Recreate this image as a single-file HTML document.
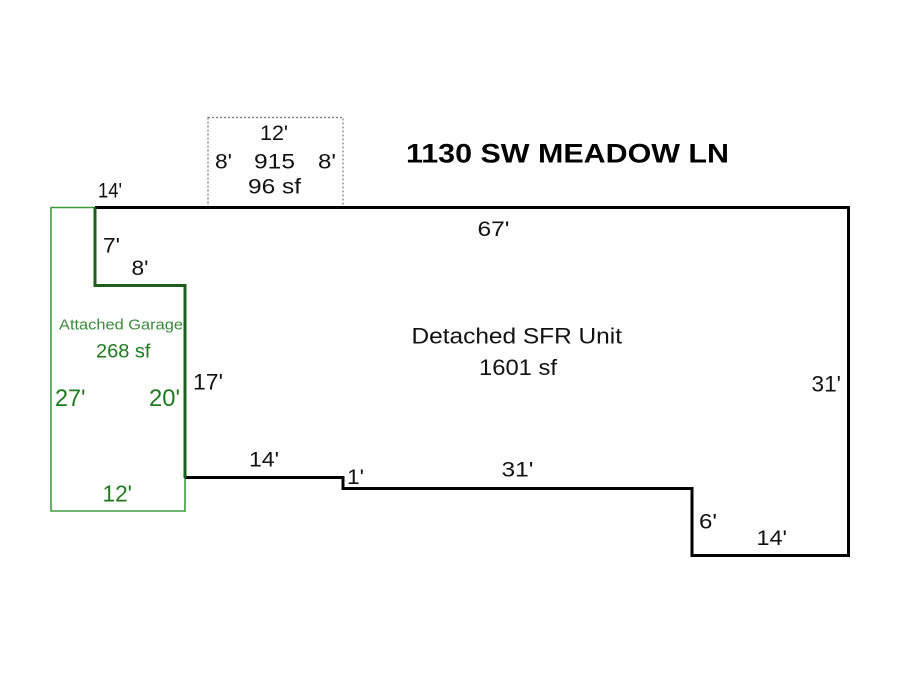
<!DOCTYPE html>
<html>
<head>
<meta charset="utf-8">
<style>
  html,body{margin:0;padding:0;background:#fff;}
  svg{display:block;}
  text{font-family:"Liberation Sans",Arial,sans-serif;}
</style>
</head>
<body>
<svg width="900" height="675" viewBox="0 0 900 675" xmlns="http://www.w3.org/2000/svg">
  <rect width="900" height="675" fill="#fff"/>

  <!-- dotted box -->
  <rect x="208" y="117.5" width="135" height="90" fill="none" stroke="#777" stroke-width="1.2" stroke-dasharray="2,2"/>

  <!-- garage light outline -->
  <polyline points="95,207.5 51,207.5 51,511 185,511 185,477" fill="none" stroke="#3f9a3f" stroke-width="1.6"/>

  <!-- black main outline -->
  <polyline points="95,207.5 848.5,207.5 848.5,555.5 692,555.5 692,488.5 343,488.5 343,477.5 185,477.5"
            fill="none" stroke="#000" stroke-width="3" stroke-linejoin="miter"/>

  <!-- dark green shared wall -->
  <polyline points="95,207 95,285.5 185,285.5 185,478" fill="none" stroke="#1c5f1c" stroke-width="3" stroke-linejoin="miter"/>

  <!-- title -->
  <text x="406" y="162.5" font-size="27" font-weight="bold" fill="#000" textLength="323" lengthAdjust="spacingAndGlyphs">1130 SW MEADOW LN</text>

  <!-- dotted box labels -->
  <text x="260" y="140" font-size="21" fill="#111" textLength="28" lengthAdjust="spacingAndGlyphs">12'</text>
  <text x="215" y="168.3" font-size="21" fill="#111" textLength="17" lengthAdjust="spacingAndGlyphs">8'</text>
  <text x="254" y="168.3" font-size="21" fill="#111" textLength="41" lengthAdjust="spacingAndGlyphs">915</text>
  <text x="318" y="168.3" font-size="21" fill="#111" textLength="18" lengthAdjust="spacingAndGlyphs">8'</text>
  <text x="248" y="193.3" font-size="21" fill="#111" textLength="53" lengthAdjust="spacingAndGlyphs">96 sf</text>

  <!-- black dimension labels -->
  <text x="98" y="197.3" font-size="21" fill="#111" textLength="24" lengthAdjust="spacingAndGlyphs">14'</text>
  <text x="103" y="252.7" font-size="21" fill="#111" textLength="17" lengthAdjust="spacingAndGlyphs">7'</text>
  <text x="131.5" y="275" font-size="21" fill="#111" textLength="17" lengthAdjust="spacingAndGlyphs">8'</text>
  <text x="477.5" y="236" font-size="21" fill="#111" textLength="32" lengthAdjust="spacingAndGlyphs">67'</text>
  <text x="193" y="389.3" font-size="22.5" fill="#111" textLength="30" lengthAdjust="spacingAndGlyphs">17'</text>
  <text x="249" y="466.7" font-size="21" fill="#111" textLength="30" lengthAdjust="spacingAndGlyphs">14'</text>
  <text x="347" y="484" font-size="21" fill="#111" textLength="17" lengthAdjust="spacingAndGlyphs">1'</text>
  <text x="501.5" y="476.7" font-size="21" fill="#111" textLength="32" lengthAdjust="spacingAndGlyphs">31'</text>
  <text x="811.5" y="391.7" font-size="22" fill="#111" textLength="29.5" lengthAdjust="spacingAndGlyphs">31'</text>
  <text x="699" y="528.3" font-size="21" fill="#111" textLength="18" lengthAdjust="spacingAndGlyphs">6'</text>
  <text x="756.5" y="545" font-size="21" fill="#111" textLength="30.5" lengthAdjust="spacingAndGlyphs">14'</text>

  <!-- center labels -->
  <text x="411.5" y="343.3" font-size="22" fill="#111" textLength="210.5" lengthAdjust="spacingAndGlyphs">Detached SFR Unit</text>
  <text x="479" y="375" font-size="22" fill="#111" textLength="78" lengthAdjust="spacingAndGlyphs">1601 sf</text>

  <!-- garage labels -->
  <text x="59" y="329.3" font-size="15" fill="#3a8a3a" textLength="124" lengthAdjust="spacingAndGlyphs">Attached Garage</text>
  <text x="96" y="357.3" font-size="19" fill="#1f7a1f" textLength="54.5" lengthAdjust="spacingAndGlyphs">268 sf</text>
  <text x="55" y="406" font-size="24" fill="#1f7a1f" textLength="30.5" lengthAdjust="spacingAndGlyphs">27'</text>
  <text x="149" y="406" font-size="24" fill="#1f7a1f" textLength="31" lengthAdjust="spacingAndGlyphs">20'</text>
  <text x="102.5" y="501.7" font-size="23" fill="#1f7a1f" textLength="29.5" lengthAdjust="spacingAndGlyphs">12'</text>
</svg>
</body>
</html>
